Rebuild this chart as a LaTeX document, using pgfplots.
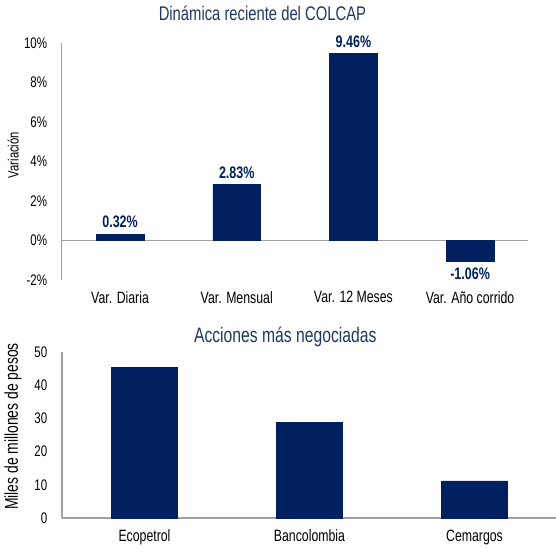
\documentclass[border=0pt]{standalone}
\usepackage{pgfplots}
\pgfplotsset{compat=1.18}
\usepackage{fontspec}
\setmainfont{Liberation Sans}[FakeStretch=0.75]
\definecolor{navy}{RGB}{0,32,96}
\definecolor{titlenavy}{RGB}{31,56,100}
\definecolor{axisgray}{RGB}{160,160,160}

\pgfplotsset{
  panel/.style={
    scale only axis,
    ybar, clip=false,
    axis lines*=left,
    axis line style={-, draw=axisgray, line width=0.8pt},
    major tick length=0pt,
    xtick=data,
    /pgf/number format/assume math mode=true,
    yticklabel style={font=\fontsize{11.5}{13}\selectfont, xshift=-7.5pt},
    xticklabel style={font=\fontsize{12.3}{14}\selectfont, yshift=-5pt},
    title style={text=titlenavy, yshift=-6pt},
  }
}

\begin{document}
\begin{tikzpicture}
\useasboundingbox (0,0) rectangle (417pt,417.75pt);

% Dinamica reciente del COLCAP
\begin{axis}[panel, at={(46.3pt,207.75pt)}, anchor=south west,
  width=350pt, height=177.75pt, bar width=0.41,
  xmin=-0.5, xmax=3.5, ymin=-2, ymax=10, ytick={-2,0,...,10},
  yticklabel={\pgfmathprintnumber{\tick}\%},
  xticklabels={Var. Diaria, Var. Mensual, Var. 12 Meses, Var. Año corrido},
  x axis line style={draw=none},
  extra y ticks={0}, extra y tick labels={},
  extra y tick style={grid=major, major grid style={draw=axisgray, line width=0.8pt}},
  nodes near coords={\pgfmathprintnumber[fixed,precision=2,fixed zerofill]{\pgfplotspointmeta}\%},
  nodes near coords style={font=\bfseries\fontsize{12.5}{14}\selectfont, text=navy, inner sep=4.5pt},
  title={Dinámica reciente del COLCAP},
  title style={at={(0.43,1.127)}, anchor=center, font=\fontsize{14.8}{17}\selectfont},
  ylabel={Variación},
  ylabel style={at={(-0.104,0.527)}, anchor=center, font=\fontsize{11.2}{13}\selectfont},
]
\addplot[fill=navy, draw=navy] coordinates {(0,0.32) (1,2.83) (2,9.46) (3,-1.06)};
\end{axis}

% Acciones mas negociadas
\begin{axis}[panel, at={(46.5pt,29.25pt)}, anchor=south west,
  width=371.25pt, height=124.5pt, bar width=0.4,
  xmin=-0.5, xmax=2.5, ymin=0, ymax=50, ytick={0,10,...,50},
  xticklabel style={yshift=-0.5pt},
  xticklabels={Ecopetrol, Bancolombia, Cemargos},
  title={Acciones más negociadas},
  title style={at={(0.451,1.09)}, anchor=center, font=\fontsize{15.7}{18}\selectfont},
  ylabel={Miles de millones de pesos},
  ylabel style={at={(-0.099,0.551)}, anchor=center, font=\fontsize{13.9}{16}\selectfont},
]
\addplot[fill=navy, draw=navy] coordinates {(0,45.3) (1,28.8) (2,11.2)};
\end{axis}
\end{tikzpicture}
\end{document}
